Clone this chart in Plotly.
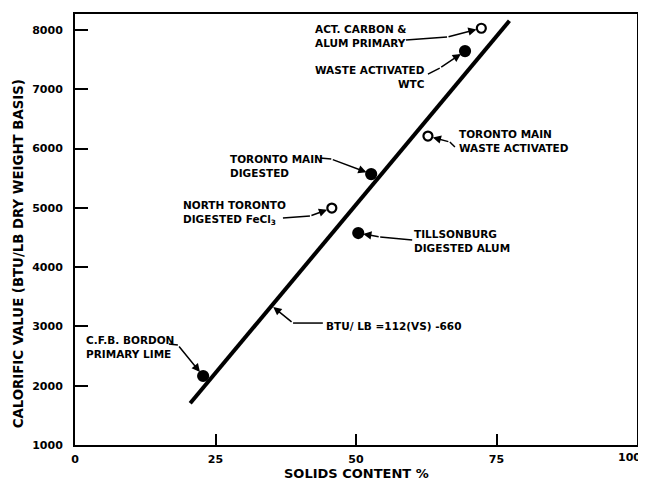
import numpy as np
import plotly.graph_objects as go

# ---- data ----
sample_names = [
    "ACT. CARBON &<br>ALUM PRIMARY",
    "WASTE ACTIVATED<br>WTC",
    "TORONTO MAIN<br>WASTE ACTIVATED",
    "TORONTO MAIN<br>DIGESTED",
    "NORTH TORONTO<br>DIGESTED FeCl<sub>3</sub>",
    "TILLSONBURG<br>DIGESTED ALUM",
    "C.F.B. BORDON<br>PRIMARY LIME",
]
solids_pct = [72.3, 69.4, 62.8, 52.7, 45.7, 50.4, 22.8]
calorific_btu = [8030, 7644, 6211, 5570, 4997, 4575, 2164]
open_point = [True, False, True, False, True, False, False]

fit_solids = [20.5, 77.3]
fit_btu = [1703, 8155]
fit_label = "BTU/ LB =112(VS) -660"

x_ticks = [0, 25, 50, 75, 100]
y_ticks = [1000, 2000, 3000, 4000, 5000, 6000, 7000, 8000]

# ---- annotation layout (label anchor, leader start, leader elbow) ----
label_pos = [(42.3, 7906), (42.3, 7214), (68.0, 6135), (27.2, 5713),
             (18.9, 4921), (60.0, 4449), (1.6, 2661)]
label_align = ["left", "right", "left", "left", "left", "left", "left"]
leader_start = [(58.9, 7830), (62.8, 7256), (67.6, 6025), (43.6, 5840),
                (37.0, 4828), (60.0, 4457), (16.7, 2703)]
leader_elbow = [(66.2, 7880), (64.9, 7358), (66.7, 6110), (45.6, 5823),
                (41.8, 4862), (54.3, 4508), (18.3, 2686)]
fit_label_pos = (44.3, 3007)
fit_leader_start = (44.1, 3057)
fit_leader_elbow = (38.8, 3057)
fit_arrow_x = 35.0

FONT = "DejaVu Sans"
LABEL_SIZE = 10.5
TICK_FONT = dict(family=FONT, size=11, color="black", weight="bold")

fig = go.Figure()

fig.add_trace(go.Scatter(
    x=fit_solids, y=fit_btu, mode="lines",
    line=dict(color="black", width=4), hoverinfo="skip", showlegend=False))

fig.add_trace(go.Scatter(
    x=solids_pct, y=calorific_btu, mode="markers", opacity=1,
    marker=dict(
        size=[9 if o else 10 for o in open_point],
        symbol=["circle-open" if o else "circle" for o in open_point],
        color="#000000", opacity=1,
        line=dict(color="#000000", width=2.2)),
    text=[s.replace("<br>", " ") for s in sample_names],
    hoverinfo="text+x+y", showlegend=False))

annotations = []
shapes = []
for name, (lx, ly), al, (sx, sy), (ex, ey), px, py in zip(
        sample_names, label_pos, label_align, leader_start, leader_elbow,
        solids_pct, calorific_btu):
    annotations.append(dict(
        x=lx, y=ly, xref="x", yref="y", text=name, showarrow=False,
        xanchor="left", yanchor="middle", align=al,
        font=dict(family=FONT, size=LABEL_SIZE, color="black", weight="bold")))
    shapes.append(dict(type="line", xref="x", yref="y", x0=sx, y0=sy,
                       x1=ex, y1=ey, line=dict(color="black", width=1.5)))
    annotations.append(dict(
        x=px, y=py, xref="x", yref="y", ax=ex, ay=ey, axref="x", ayref="y",
        text="", showarrow=True, arrowhead=2, arrowsize=1.1, arrowwidth=1.5,
        arrowcolor="black", standoff=5))

# formula label
annotations.append(dict(
    x=fit_label_pos[0], y=fit_label_pos[1], xref="x", yref="y",
    text=fit_label, showarrow=False, xanchor="left", yanchor="middle",
    font=dict(family=FONT, size=LABEL_SIZE, color="black", weight="bold")))
shapes.append(dict(type="line", xref="x", yref="y",
                   x0=fit_leader_start[0], y0=fit_leader_start[1],
                   x1=fit_leader_elbow[0], y1=fit_leader_elbow[1],
                   line=dict(color="black", width=1.5)))
fit_arrow_y = float(np.interp(fit_arrow_x, fit_solids, fit_btu))
annotations.append(dict(
    x=fit_arrow_x, y=fit_arrow_y, xref="x", yref="y",
    ax=fit_leader_elbow[0], ay=fit_leader_elbow[1], axref="x", ayref="y",
    text="", showarrow=True, arrowhead=2, arrowsize=1.1, arrowwidth=1.5,
    arrowcolor="black", standoff=2))

# last x tick label sits at the right edge; keep it inside the page
annotations.append(dict(
    x=x_ticks[-1], y=-0.030, xref="x", yref="paper", text=str(x_ticks[-1]),
    showarrow=False, xanchor="right", yanchor="middle", xshift=6,
    font=TICK_FONT))

# axis titles
annotations.append(dict(
    x=0.5, y=-0.066, xref="paper", yref="paper", text="SOLIDS CONTENT %",
    showarrow=False, xanchor="center", yanchor="middle",
    font=dict(family=FONT, size=13, color="black", weight="bold")))
annotations.append(dict(
    x=-0.101, y=0.443, xref="paper", yref="paper",
    text="CALORIFIC VALUE (BTU/LB DRY WEIGHT BASIS)", textangle=-90,
    showarrow=False, xanchor="center", yanchor="middle",
    font=dict(family=FONT, size=13.3, color="black", weight="bold")))

# page body has an 8px margin, so the figure is 8px smaller than the window
fig.update_layout(
    width=638, height=474,
    margin=dict(l=67, r=9, t=6, b=37, autoexpand=False),
    paper_bgcolor="white", plot_bgcolor="white",
    annotations=annotations, shapes=shapes,
    font=dict(family=FONT, color="black"),
    xaxis=dict(range=[0, 100], tickvals=x_ticks,
               ticktext=[str(v) for v in x_ticks[:-1]] + [""],
               ticks="inside", ticklen=11,
               tickwidth=2, tickcolor="black", showgrid=False, zeroline=False,
               showline=True, linecolor="black", linewidth=2, mirror=True,
               ticklabelstandoff=3, automargin=False, tickfont=TICK_FONT),
    yaxis=dict(range=[1000, 8270], tickvals=y_ticks, ticks="inside", ticklen=13,
               tickwidth=2, tickcolor="black", showgrid=False, zeroline=False,
               showline=True, linecolor="black", linewidth=2, mirror=True,
               ticklabelstandoff=8, automargin=False, tickfont=TICK_FONT),
)

fig.write_html("out.html")
